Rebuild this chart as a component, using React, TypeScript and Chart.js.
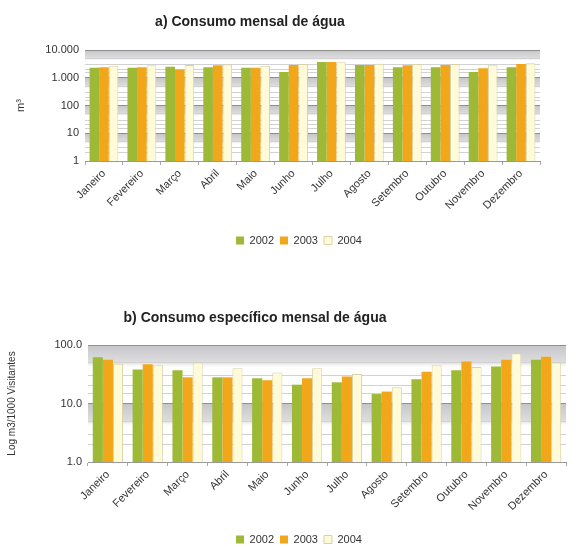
import React, { useEffect, useRef } from "react";
import { Chart, registerables } from "chart.js";
Chart.register(...registerables);

const FONT = '"Liberation Sans", Arial, sans-serif';

const months = ["Janeiro", "Fevereiro", "Março", "Abril", "Maio", "Junho", "Julho", "Agosto", "Setembro", "Outubro", "Novembro", "Dezembro"];
const years = ["2002", "2003", "2004"];

// a) Consumo mensal de água (m³)
const consumo2002 = [2300, 2300, 2500, 2400, 2300, 1600, 3700, 2900, 2400, 2400, 1600, 2400];
const consumo2003 = [2400, 2400, 2000, 2800, 2300, 2900, 3700, 2900, 2800, 2900, 2200, 3100];
const consumo2004 = [2700, 2800, 2900, 3000, 2700, 3100, 3600, 3200, 3100, 3100, 2800, 3300];

// b) Consumo específico mensal de água (m3/1000 visitantes)
const especifico2002 = [62, 38, 37, 28, 27, 21, 23, 14.5, 26, 37, 43, 56];
const especifico2003 = [56, 47, 28, 28, 25, 27, 29, 16, 35, 52, 56, 63];
const especifico2004 = [48, 45, 50, 40, 34, 40, 32, 19, 45, 42, 72, 50];

const yTicksA = ["1", "10", "100", "1.000", "10.000"];
const yTicksB = ["1.0", "10.0", "100.0"];

const colors = ["#9DB935", "#F2A619", "#FFFBD8"];
const borders = ["#9DB935", "#F2A619", "#D9D2A6"];

function isPow10(v: number) {
  const l = Math.log10(v);
  return Math.abs(l - Math.round(l)) < 1e-6;
}

function gridColor(v: number) {
  if (isPow10(v)) return "#8e8e8e";
  const sig = Math.round(v / Math.pow(10, Math.floor(Math.log10(v) + 1e-9)));
  if (sig === 2 || sig === 3 || sig === 5) return "#d2d2d2";
  return "rgba(0,0,0,0)";
}

const bandPlugin = {
  id: "bands",
  beforeDraw(chart: any) {
    const { ctx, chartArea: a, scales } = chart;
    const y = scales.y;
    ctx.save();
    ctx.fillStyle = "#ffffff";
    ctx.fillRect(a.left, a.top, a.width, a.height);
    const minE = Math.round(Math.log10(y.min));
    const maxE = Math.round(Math.log10(y.max));
    for (let e = minE; e < maxE; e++) {
      const top = y.getPixelForValue(Math.pow(10, e + 1));
      const bot = y.getPixelForValue(Math.pow(10, e));
      const h = (bot - top) * 0.4;
      const g = ctx.createLinearGradient(0, top, 0, top + h);
      g.addColorStop(0, "#c6c6ca");
      g.addColorStop(0.75, "#dedee0");
      g.addColorStop(1, "rgba(255,255,255,0)");
      ctx.fillStyle = g;
      ctx.fillRect(a.left, top, a.width, h);
    }
    ctx.restore();
  },
};

const titlePlugin = {
  id: "ptitle",
  afterDraw(chart: any, _args: any, opts: any) {
    const ctx = chart.ctx;
    ctx.save();
    ctx.font = `bold 14px ${FONT}`;
    ctx.fillStyle = "#222";
    ctx.textAlign = "center";
    ctx.textBaseline = "middle";
    ctx.fillText(opts.text, opts.x, opts.y);
    ctx.restore();
  },
};

const legendShiftPlugin = {
  id: "legendShift",
  afterLayout(chart: any, _args: any, opts: any) {
    const lg = chart.legend;
    if (lg && opts && opts.dx) {
      lg.left += opts.dx;
      lg.right += opts.dx;
      if (lg.legendHitBoxes) lg.legendHitBoxes.forEach((b: any) => (b.left += opts.dx));
    }
  },
};

type Spec = {
  title: string;
  titleX: number;
  titleY: number;
  series: number[][];
  yMax: number;
  yLabels: string[];
  yTitle: string;
  yTitleSize: number;
  padTop: number;
  padLeft: number;
  padRight: number;
  padBottom: number;
  yWidth: number;
  xHeight: number;
  legendDx: number;
};

function BarChart({ spec, top, height }: { spec: Spec; top: number; height: number }) {
  const ref = useRef<HTMLCanvasElement | null>(null);
  useEffect(() => {
    if (!ref.current) return;
    const chart = new Chart(ref.current, {
      type: "bar",
      data: {
        labels: months,
        datasets: years.map((yr, i) => ({
          label: yr,
          data: spec.series[i],
          backgroundColor: colors[i],
          borderColor: borders[i],
          borderWidth: i === 2 ? 1 : 0,
          categoryPercentage: 0.76,
          barPercentage: 1.0,
        })),
      },
      options: {
        animation: false,
        responsive: false,
        layout: {
          padding: { top: spec.padTop, left: spec.padLeft, right: spec.padRight, bottom: spec.padBottom },
        },
        plugins: {
          legend: {
            position: "bottom",
            labels: {
              boxWidth: 8,
              boxHeight: 8,
              padding: 6,
              color: "#333",
              font: { family: FONT, size: 11 },
            },
          },
          tooltip: { enabled: false },
          // @ts-ignore
          ptitle: { text: spec.title, x: spec.titleX, y: spec.titleY },
          // @ts-ignore
          legendShift: { dx: spec.legendDx },
        },
        scales: {
          x: {
            grid: { display: true, drawOnChartArea: false, tickLength: 4, color: "#aaa" },
            border: { color: "#999" },
            ticks: {
              minRotation: 45,
              maxRotation: 45,
              color: "#333",
              padding: 2,
              font: { family: FONT, size: 11 },
            },
            afterFit: (s: any) => {
              s.height = spec.xHeight;
            },
          },
          y: {
            type: "logarithmic",
            min: 1,
            max: spec.yMax,
            border: { display: false },
            grid: {
              color: (c: any) => (c.tick ? gridColor(c.tick.value) : "#8e8e8e"),
              drawTicks: false,
            },
            ticks: {
              autoSkip: false,
              color: "#333",
              padding: 6,
              font: { family: FONT, size: 11 },
              callback: (v: any) => {
                const n = Number(v);
                if (!isPow10(n)) return "";
                return spec.yLabels[Math.round(Math.log10(n))];
              },
            },
            title: {
              display: true,
              text: spec.yTitle,
              color: "#333",
              padding: { top: 0, bottom: 0 },
              font: { family: FONT, size: spec.yTitleSize },
            },
            afterFit: (s: any) => {
              s.width = spec.yWidth;
            },
          },
        },
      },
      plugins: [bandPlugin, titlePlugin, legendShiftPlugin],
    } as any);
    return () => chart.destroy();
  }, [spec]);
  return (
    <canvas
      ref={ref}
      width={576}
      height={height}
      style={{ position: "absolute", left: 0, top, width: 576, height }}
    />
  );
}

const specA: Spec = {
  title: "a) Consumo mensal de água",
  titleX: 250,
  titleY: 22,
  series: [consumo2002, consumo2003, consumo2004],
  yMax: 10000,
  yLabels: yTicksA,
  yTitle: "m³",
  yTitleSize: 11,
  padTop: 50,
  padLeft: 14,
  padRight: 36,
  padBottom: 4,
  yWidth: 71,
  xHeight: 68,
  legendDx: 22,
};

const specB: Spec = {
  title: "b) Consumo específico mensal de água",
  titleX: 255,
  titleY: 33,
  series: [especifico2002, especifico2003, especifico2004],
  yMax: 100,
  yLabels: yTicksB,
  yTitle: "Log m3/1000 Visitantes",
  yTitleSize: 10,
  padTop: 60,
  padLeft: 6,
  padRight: 10,
  padBottom: 0,
  yWidth: 82,
  xHeight: 66,
  legendDx: 13,
};

export default function App() {
  return (
    <div
      style={{
        position: "fixed",
        left: 0,
        top: 0,
        width: 576,
        height: 547,
        overflow: "hidden",
        background: "#fff",
      }}
    >
      <BarChart spec={specA} top={0} height={260} />
      <BarChart spec={specB} top={285} height={270} />
    </div>
  );
}
